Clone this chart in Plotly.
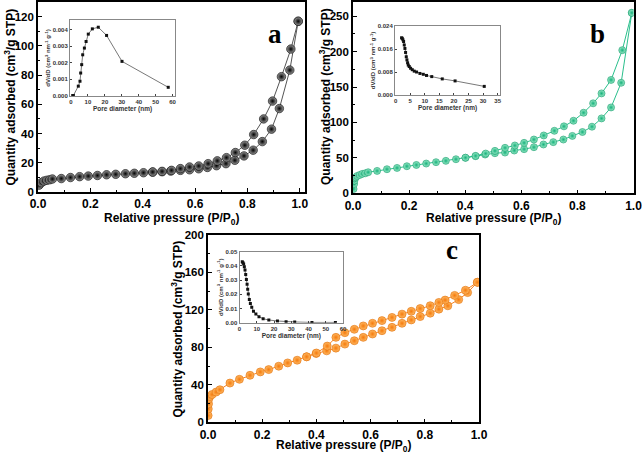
import plotly.graph_objects as go

W, H = 642, 453

# ---------------- data ----------------
# Panel a (black)
a_ads_p = [0.004, 0.013, 0.023, 0.034, 0.045, 0.055, 0.089, 0.124, 0.159, 0.192, 0.227, 0.262, 0.297, 0.334,
           0.368, 0.403, 0.438, 0.474, 0.507, 0.544, 0.579, 0.614, 0.647, 0.682, 0.718, 0.752, 0.787, 0.822,
           0.857, 0.892, 0.922, 0.962, 0.994]
a_ads_v = [4.7, 6.4, 7.5, 8.0, 8.4, 8.9, 9.2, 9.9, 10.5, 10.9, 11.3, 11.8, 12.1, 12.5, 12.8, 13.2, 13.6, 13.9,
           14.3, 14.8, 15.2, 15.9, 16.8, 18.0, 19.4, 21.7, 24.7, 28.6, 34.5, 43.0, 57.1, 83.4, 116.8]
a_des_p = [0.994, 0.966, 0.930, 0.896, 0.862, 0.824, 0.790, 0.754, 0.720, 0.685, 0.650, 0.614, 0.579, 0.544,
           0.510, 0.474, 0.438]
a_des_v = [116.8, 97.8, 78.9, 62.2, 50.0, 39.3, 32.0, 27.0, 23.5, 21.3, 19.4, 17.8, 17.1, 16.0, 14.8, 14.1, 13.7]

# Panel b (green)
b_ads_p = [0.002, 0.004, 0.005, 0.006, 0.010, 0.015, 0.024, 0.033, 0.044, 0.054, 0.086, 0.121, 0.157, 0.192,
           0.226, 0.261, 0.296, 0.331, 0.367, 0.401, 0.437, 0.471, 0.506, 0.542, 0.575, 0.610, 0.645, 0.679,
           0.714, 0.750, 0.782, 0.818, 0.852, 0.886, 0.920, 0.956, 0.994]
b_ads_v = [6.1, 13.2, 17.9, 21.2, 22.6, 24.5, 25.9, 27.4, 28.3, 29.7, 31.6, 34.0, 35.8, 38.2, 40.0, 42.0, 43.9,
           45.8, 48.1, 50.0, 52.4, 54.7, 56.6, 57.5, 60.4, 62.3, 65.1, 68.9, 72.2, 75.9, 81.0, 86.5, 94.0,
           105.7, 121.2, 156.0, 254.7]
b_des_p = [0.994, 0.960, 0.920, 0.886, 0.856, 0.822, 0.786, 0.752, 0.718, 0.680, 0.645, 0.610, 0.577, 0.542,
           0.506, 0.473, 0.437, 0.401]
b_des_v = [254.7, 202.0, 160.0, 141.0, 127.0, 113.7, 102.4, 94.5, 88.2, 81.6, 75.9, 71.2, 67.5, 64.2, 59.9,
           56.1, 52.8, 50.3]

# Panel c (orange)
c_ads_p = [0.0005, 0.001, 0.002, 0.003, 0.007, 0.015, 0.030, 0.044, 0.081, 0.116, 0.155, 0.193, 0.224, 0.261,
           0.294, 0.329, 0.364, 0.399, 0.438, 0.472, 0.505, 0.540, 0.573, 0.607, 0.642, 0.679, 0.716, 0.750,
           0.783, 0.820, 0.852, 0.885, 0.925, 0.958, 0.994]
c_ads_v = [7.2, 14.3, 19.7, 25.1, 27.6, 29.7, 32.3, 34.8, 41.9, 45.9, 50.2, 53.8, 56.3, 59.9, 63.4, 66.3, 69.9,
           73.5, 76.3, 79.2, 83.5, 87.1, 90.7, 94.3, 97.8, 101.4, 105.7, 109.3, 112.9, 116.5, 120.8, 124.4,
           131.0, 138.5, 149.5]
c_des_p = [0.994, 0.950, 0.910, 0.875, 0.852, 0.820, 0.783, 0.750, 0.716, 0.679, 0.642, 0.607, 0.573, 0.540,
           0.505, 0.472, 0.440, 0.400, 0.364]
c_des_v = [149.5, 141.0, 135.5, 130.5, 128.0, 124.5, 121.5, 118.5, 115.5, 112.0, 108.6, 105.7, 102.9, 99.3,
           95.7, 90.7, 81.4, 74.0, 70.0]

# Insets (pore size distributions)
ia_d = [1.4, 4.3, 5.3, 5.7, 6.3, 6.9, 7.9, 8.9, 10.2, 12.6, 16.1, 21.0, 30.1, 57.4]
ia_v = [0.0000, 0.00057, 0.00087, 0.00137, 0.00188, 0.00248, 0.00289, 0.00329, 0.00374, 0.00406, 0.00416,
        0.00366, 0.00208, 0.00050]
ib_d = [2.06, 2.29, 2.52, 2.75, 2.97, 3.2, 3.43, 3.66, 3.89, 4.12, 4.35, 4.69, 5.15, 5.72, 6.4, 7.2, 8.35,
        9.5, 10.6, 12.4, 16.0, 20.4, 30.4]
ib_v = [0.0199, 0.0197, 0.0192, 0.0186, 0.0174, 0.0162, 0.0148, 0.0133, 0.0122, 0.0112, 0.0104, 0.0099,
        0.0093, 0.0088, 0.0083, 0.0080, 0.0075, 0.0072, 0.0068, 0.0064, 0.0056, 0.0049, 0.0030]
ic_d = [1.6, 2.0, 2.4, 2.8, 3.2, 3.6, 4.0, 4.4, 4.75, 5.1, 5.7, 6.3, 7.1, 8.1, 9.5, 11.3, 13.7, 17.0, 22.0,
        27.0, 32.0, 42.0, 55.6]
ic_v = [0.0430, 0.0423, 0.0413, 0.0394, 0.0371, 0.0340, 0.0305, 0.0270, 0.0235, 0.0202, 0.0164, 0.0136,
        0.0108, 0.0080, 0.0061, 0.0042, 0.0028, 0.0019, 0.0012, 0.0007, 0.0005, 0.0002, 0.0002]

XT = "Relative pressure (P/P<sub>0</sub>)"
YT = "Quantity adsorbed (cm<sup>3</sup>/g STP)"
IXT = "Pore diameter (nm)"
IYT = "dV/dD (cm<sup>3</sup> nm<sup>-1</sup> g<sup>-1</sup>)"

FONT = "Liberation Sans, Arial, sans-serif"


def px_dom_x(x0, x1):
    return [x0 / W, x1 / W]


def px_dom_y(top, bottom):
    return [1 - bottom / H, 1 - top / H]


fig = go.Figure()

# main panels
panels = [
    dict(n="", ads=(a_ads_p, a_ads_v), des=(a_des_p, a_des_v), line="#555555", mc="#9a9a9a", me="#000000",
         edge="#000000", size=8.5),
    dict(n="2", ads=(b_ads_p, b_ads_v), des=(b_des_p, b_des_v), line="#2bbf8c", mc="#9eecca", me="#17b07b",
         edge="#13986a", size=7),
    dict(n="3", ads=(c_ads_p, c_ads_v), des=(c_des_p, c_des_v), line="#f7801c", mc="#ffbb66", me="#f57a0c",
         edge="#e06c05", size=8),
]
for p in panels:
    for (xs, ys) in (p["ads"], p["des"]):
        fig.add_trace(go.Scatter(
            x=xs, y=ys, mode="lines+markers", xaxis="x" + p["n"], yaxis="y" + p["n"],
            line=dict(color=p["line"], width=1),
            marker=dict(size=p["size"], color=p["mc"], gradient=dict(type="radial", color=p["me"]),
                        line=dict(color=p["edge"], width=0.6)),
            showlegend=False, hoverinfo="skip"))

for n, (dx, dy) in zip(["4", "5", "6"], [(ia_d, ia_v), (ib_d, ib_v), (ic_d, ic_v)]):
    fig.add_trace(go.Scatter(
        x=dx, y=dy, mode="lines+markers", xaxis="x" + n, yaxis="y" + n,
        line=dict(color="#555555", width=0.8),
        marker=dict(symbol="square", size=3, color="#111111"),
        showlegend=False, hoverinfo="skip"))


def main_x(dom, rng, anchor):
    return dict(domain=dom, range=rng, anchor=anchor, showgrid=False, zeroline=False,
                showline=True, mirror=True, linecolor="#000", linewidth=1.6,
                ticks="inside", ticklen=4, tickwidth=1.2, tickcolor="#000",
                tick0=0, dtick=0.2, tickformat=".1f", ticklabeloverflow="allow",
                minor=dict(ticks="inside", dtick=0.1, ticklen=2.5, tickwidth=1, tickcolor="#000"),
                tickfont=dict(family=FONT, size=12, color="#000", weight="bold"),
                automargin=False, fixedrange=True)


def main_y(dom, rng, dt, anchor):
    return dict(domain=dom, range=rng, anchor=anchor, showgrid=False, zeroline=False,
                showline=True, mirror=True, linecolor="#000", linewidth=1.6,
                ticks="inside", ticklen=4, tickwidth=1.2, tickcolor="#000",
                tick0=0, dtick=dt, ticklabeloverflow="allow",
                minor=dict(ticks="inside", dtick=dt / 2, ticklen=2.5, tickwidth=1, tickcolor="#000"),
                tickfont=dict(family=FONT, size=11.5, color="#000", weight="bold"),
                automargin=False, fixedrange=True)


def ins_x(dom, rng, dt, anchor):
    return dict(domain=dom, range=rng, anchor=anchor, showgrid=False, zeroline=False,
                showline=True, mirror=True, linecolor="#888", linewidth=1,
                ticks="inside", ticklen=2, tickwidth=0.8, tickcolor="#444",
                tick0=0, dtick=dt,
                tickfont=dict(family=FONT, size=6, color="#333", weight="bold"),
                title=dict(text="<b>" + IXT + "</b>", font=dict(family=FONT, size=6.5, color="#333"),
                           standoff=1),
                automargin=False, fixedrange=True)


def ins_y(dom, rng, dt, fmt, anchor):
    return dict(domain=dom, range=rng, anchor=anchor, showgrid=False, zeroline=False,
                showline=True, mirror=True, linecolor="#888", linewidth=1,
                ticks="inside", ticklen=2, tickwidth=0.8, tickcolor="#444",
                tick0=0, dtick=dt, tickformat=fmt,
                tickfont=dict(family=FONT, size=6, color="#333", weight="bold"),
                title=dict(text="<b>" + IYT + "</b>", font=dict(family=FONT, size=6, color="#333"),
                           standoff=1),
                automargin=False, fixedrange=True)


fig.update_layout(
    width=W, height=H, margin=dict(l=0, r=0, t=0, b=0),
    paper_bgcolor="white", plot_bgcolor="white",
    xaxis=main_x(px_dom_x(38, 305), [0, 1.02], "y"),
    yaxis=main_y(px_dom_y(2, 192), [0, 130], 20, "x"),
    xaxis2=main_x(px_dom_x(353, 633.5), [0, 1.0], "y2"),
    yaxis2=main_y(px_dom_y(2, 193.3), [0, 270], 50, "x2"),
    xaxis3=main_x(px_dom_x(208, 479), [0, 1.0], "y3"),
    yaxis3=main_y(px_dom_y(235, 422.3), [0, 200], 40, "x3"),
    xaxis4=ins_x(px_dom_x(70, 175), [-0.6, 61.4], 10, "y4"),
    yaxis4=ins_y(px_dom_y(20, 96), [-0.00003, 0.0046], 0.001, ".3f", "x4"),
    xaxis5=ins_x(px_dom_x(395, 500), [-0.2, 35.8], 5, "y5"),
    yaxis5=ins_y(px_dom_y(26, 95), [0, 0.024], 0.008, ".3f", "x5"),
    xaxis6=ins_x(px_dom_x(239.5, 343), [0, 60], 10, "y6"),
    yaxis6=ins_y(px_dom_y(251.7, 322.7), [0, 0.05], 0.01, ".2f", "x6"),
)

# axis titles of the main panels (placed as paper annotations)
title_font = dict(family=FONT, size=12, color="#000")
for x, y in [(171.5, 219), (493, 219), (343.5, 446)]:
    fig.add_annotation(text="<b>" + XT + "</b>", x=x / W, y=1 - y / H, xref="paper", yref="paper",
                       showarrow=False, font=title_font, xanchor="center", yanchor="middle")
for x, y in [(9.5, 97), (325, 97), (176.5, 329)]:
    fig.add_annotation(text="<b>" + YT + "</b>", x=x / W, y=1 - y / H, xref="paper", yref="paper",
                       showarrow=False, font=title_font, textangle=-90, xanchor="center", yanchor="middle")

for txt, x, y in [("a", 275, 17), ("b", 607, 17), ("c", 460, 250)]:
    fig.add_annotation(text="<b>" + txt + "</b>", x=x / W, y=1 - y / H, xref="paper", yref="paper",
                       showarrow=False, font=dict(family="Liberation Serif, Times New Roman, serif", size=27,
                                                   color="#000"))

fig.write_html("out.html", config={"displayModeBar": False},
               post_script="document.body.style.margin='0';document.body.style.overflow='hidden';"
                           "document.documentElement.style.overflow='hidden';")
